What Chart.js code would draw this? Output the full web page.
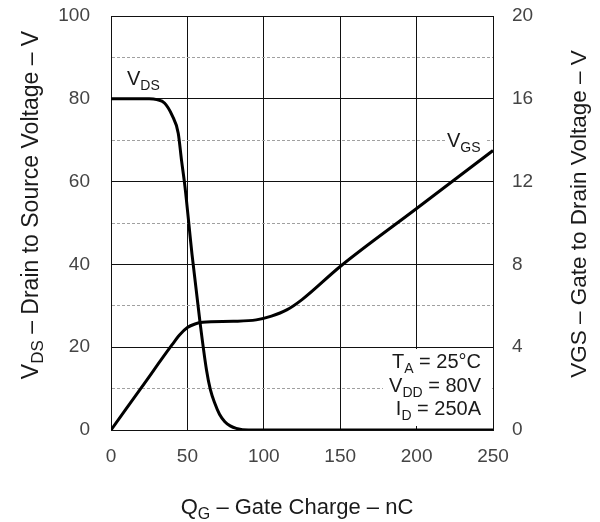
<!DOCTYPE html>
<html>
<head>
<meta charset="utf-8">
<script src="https://cdn.jsdelivr.net/npm/chart.js@4.4.0/dist/chart.umd.min.js"></script>
<style>
  html, body { margin: 0; padding: 0; background: #fff; }
  #wrap { width: 600px; height: 522px; }
</style>
</head>
<body>
<div id="wrap"><canvas id="chart" width="600" height="522"></canvas></div>
<script>
// Gate charge curve
const qgVds = [0, 25, 30, 35, 40, 44, 46.2, 48.4, 53, 58.2, 62.5, 65, 68, 71, 74.5, 78, 82, 90, 250];
const vds   = [80, 80, 79.8, 79, 76, 71.7, 65, 58.8, 42.5, 26.2, 14.5, 9.8, 6.4, 3.8, 2, 1, 0.4, 0, 0];

const qgVgs = [0, 20, 40, 45, 50, 55, 60, 80, 95, 105, 115, 125, 150, 200, 250];
const vgs   = [0, 2.06, 4.12, 4.6, 4.95, 5.12, 5.2, 5.25, 5.32, 5.5, 5.8, 6.3, 7.9, 10.7, 13.5];

const FONT = "'Liberation Sans', Arial, sans-serif";

// draws text made of [text, isSubscript] pieces
function drawParts(ctx, parts, x, y, align, size) {
  const main = size + "px " + FONT;
  const sub = Math.round(size * 0.72) + "px " + FONT;
  let total = 0;
  parts.forEach(p => { ctx.font = p[1] ? sub : main; total += ctx.measureText(p[0]).width; });
  let cx = align === "right" ? x - total : align === "center" ? x - total / 2 : x;
  ctx.textAlign = "left";
  ctx.textBaseline = "alphabetic";
  parts.forEach(p => {
    ctx.font = p[1] ? sub : main;
    ctx.fillText(p[0], cx, p[1] ? y + 5 : y);
    cx += ctx.measureText(p[0]).width;
  });
}

const labelsPlugin = {
  id: "labels",
  beforeDatasetsDraw(chart) {
    const ctx = chart.ctx;
    ctx.save();
    ctx.fillStyle = "#fff";
    ctx.fillRect(383, 349, 107, 77);   // condition box
    ctx.fillRect(445, 128, 40, 22);    // VGS label
    ctx.restore();
  },
  afterDraw(chart) {
    const ctx = chart.ctx;
    ctx.save();
    ctx.fillStyle = "#1a1a1a";
    drawParts(ctx, [["V", false], ["DS", true]], 127, 85, "left", 20);
    drawParts(ctx, [["V", false], ["GS", true]], 447, 147, "left", 20);

    drawParts(ctx, [["T", false], ["A", true], [" = 25°C", false]], 481, 368, "right", 20);
    drawParts(ctx, [["V", false], ["DD", true], [" = 80V", false]], 481, 392, "right", 20);
    drawParts(ctx, [["I", false], ["D", true], [" = 250A", false]], 481, 415, "right", 20);

    drawParts(ctx, [["Q", false], ["G", true], [" – Gate Charge – nC", false]], 297, 514, "center", 22);

    ctx.save();
    ctx.translate(38, 205);
    ctx.rotate(-Math.PI / 2);
    drawParts(ctx, [["V", false], ["DS", true], [" – Drain to Source Voltage – V", false]], 0, 0, "center", 23);
    ctx.restore();

    ctx.save();
    ctx.translate(586, 214);
    ctx.rotate(-Math.PI / 2);
    drawParts(ctx, [["VGS – Gate to Drain Voltage – V", false]], 0, 0, "center", 22.5);
    ctx.restore();
    ctx.restore();
  }
};

const vdsData = qgVds.map((q, i) => ({ x: q, y: vds[i] }));
const vgsData = qgVgs.map((q, i) => ({ x: q, y: vgs[i] }));

// keep the plot box fixed: 111..493 across, 16..430 down
const fixVertical = w => s => { s.width = w; s.paddingTop = 0; s.paddingBottom = 0; };

new Chart(document.getElementById("chart"), {
  type: "line",
  data: {
    datasets: [
      {
        label: "VDS",
        data: vdsData,
        yAxisID: "y",
        borderColor: "#000",
        borderWidth: 3,
        pointRadius: 0,
        cubicInterpolationMode: "monotone",
        fill: false
      },
      {
        label: "VGS",
        data: vgsData,
        yAxisID: "y2",
        borderColor: "#000",
        borderWidth: 3,
        pointRadius: 0,
        cubicInterpolationMode: "monotone",
        fill: false
      }
    ]
  },
  options: {
    responsive: false,
    animation: false,
    layout: { padding: { top: 16, left: 0, right: 0, bottom: 0 } },
    plugins: {
      legend: { display: false },
      tooltip: { enabled: false }
    },
    scales: {
      x: {
        type: "linear",
        min: 0,
        max: 250,
        ticks: { stepSize: 50, color: "#444", font: { family: FONT, size: 19 }, padding: 15, maxRotation: 0 },
        grid: { color: "#111", lineWidth: 1, drawTicks: false },
        border: { color: "#111", width: 1 },
        afterFit: s => { s.height = 92; s.paddingLeft = 0; s.paddingRight = 0; }
      },
      y: {
        position: "left",
        min: 0,
        max: 100,
        ticks: {
          stepSize: 10,
          color: "#444",
          font: { family: FONT, size: 19 },
          padding: 21,
          callback: v => (v % 20 === 0 ? v : "")
        },
        grid: {
          drawTicks: false,
          lineWidth: 1,
          color: c => (c.tick && c.tick.value % 20 !== 0 ? "#a0a0a0" : "#111")
        },
        border: {
          color: "#111",
          width: 1,
          dash: c => (c.tick && c.tick.value % 20 !== 0 ? [3, 2] : [])
        },
        afterFit: fixVertical(111)
      },
      y2: {
        position: "right",
        min: 0,
        max: 20,
        ticks: { stepSize: 4, color: "#444", font: { family: FONT, size: 19 }, padding: 19 },
        grid: { display: false, drawTicks: false },
        border: { color: "#111", width: 1 },
        afterFit: fixVertical(107)
      }
    }
  },
  plugins: [labelsPlugin]
});
</script>
</body>
</html>
